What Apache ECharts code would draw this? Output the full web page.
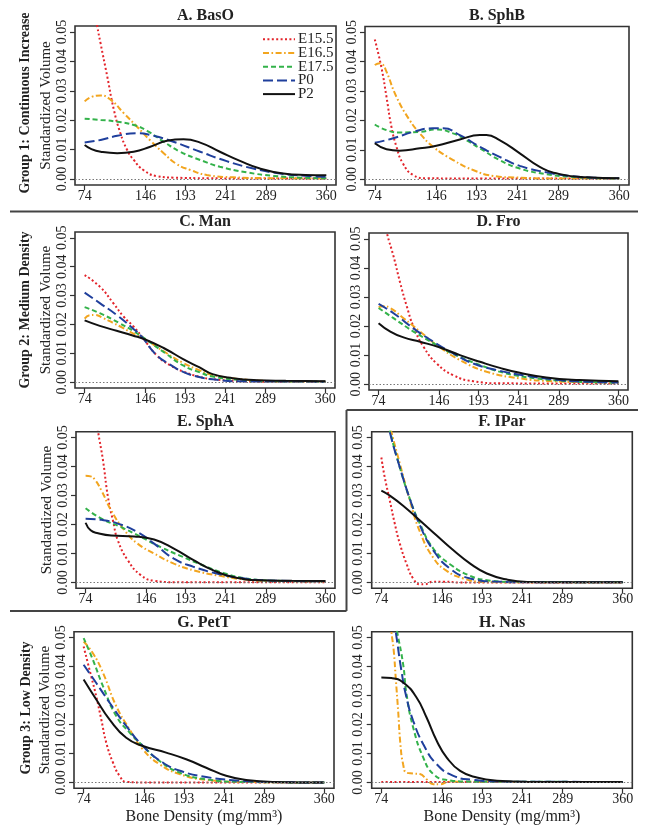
<!DOCTYPE html>
<html><head><meta charset="utf-8">
<script src="https://cdn.jsdelivr.net/npm/echarts@6/dist/echarts.min.js"></script>
<style>html,body{margin:0;padding:0;background:#fff}#c{width:649px;height:833px}</style>
</head><body><div id="c"></div>
<script>
// ---------- data ----------
const cohorts = ['E15.5','E16.5','E17.5','P0','P2'];
const panelTitles = ['A. BasO','B. SphB','C. Man','D. Fro','E. SphA','F. IPar','G. PetT','H. Nas'];
const groupLabels = ['Group 1: Continuous Increase','Group 2: Medium Density','Group 3: Low Density'];
const xTicks = [74,146,193,241,289,360];
const yTicks = [0,0.01,0.02,0.03,0.04,0.05];
const xTitle = 'Bone Density (mg/mm³)';
const yTitle = 'Standardized Volume';

// A. BasO
const A_E155 = [[74,0.085],[80,0.072],[84,0.062],[88.9,0.052],[92.9,0.046],[100.7,0.0349],[108.6,0.0235],[116.4,0.0155],[124.3,0.0099],[132.1,0.0065],[143.9,0.003],[159.6,0.001],[179.3,0.0005],[220,0.0003],[280,0.0002],[360,0.0002]];
const A_E165 = [[74,0.0264],[83,0.028],[92.9,0.0284],[104.6,0.027],[120.3,0.0224],[136,0.0178],[151.7,0.0131],[167.5,0.0088],[183,0.0051],[199,0.0031],[218.5,0.0014],[250,0.0006],[300,0.0003],[360,0.0002]];
const A_E175 = [[74,0.0205],[92.9,0.0201],[112.5,0.0195],[132,0.0184],[147.8,0.0164],[167.5,0.0127],[187,0.0093],[210.7,0.0065],[234,0.0042],[265.7,0.0023],[297,0.0011],[330,0.0005],[360,0.0003]];
const A_P0   = [[74,0.0124],[92.9,0.0133],[112.5,0.0147],[136,0.0156],[151.7,0.015],[179,0.0127],[210.7,0.0093],[242,0.0061],[273.5,0.0036],[305,0.0019],[335,0.0011],[360,0.0008]];
const A_P2   = [[74,0.0116],[82,0.0102],[92.9,0.0093],[112.5,0.0088],[132,0.0093],[151.7,0.011],[171.4,0.013],[191,0.0135],[210.7,0.0124],[234,0.0093],[257.8,0.0062],[281.4,0.0036],[309,0.0019],[335,0.0014],[360,0.0013]];
// B. SphB
const B_E155 = [[74,0.0476],[81.8,0.038],[87.7,0.028],[93.5,0.0178],[99.4,0.011],[107,0.0053],[118.9,0.0014],[134.5,0.0003],[200,0.0002],[360,0.0002]];
const B_E165 = [[74,0.0389],[80,0.0395],[82.5,0.0393],[87.7,0.0366],[99.4,0.028],[115,0.02],[126.7,0.0156],[142.3,0.011],[165.7,0.0065],[189,0.0031],[212.5,0.0011],[243.7,0.0005],[290,0.0002],[360,0.0002]];
const B_E175 = [[74,0.0186],[87.7,0.0167],[103,0.0159],[126.7,0.0161],[146,0.0169],[165.7,0.0156],[181,0.0133],[197,0.0105],[220,0.0065],[243.7,0.0036],[275,0.0017],[302,0.0008],[330,0.0004],[360,0.0002]];
const B_P0   = [[74,0.0124],[95.5,0.0139],[119,0.0161],[142,0.0173],[154,0.0173],[173.5,0.015],[197,0.011],[220,0.0076],[243.7,0.0045],[275,0.0023],[302,0.0011],[330,0.0005],[360,0.0003]];
const B_P2   = [[74,0.0122],[87.7,0.0102],[103,0.0097],[126.7,0.0105],[146,0.0114],[173.5,0.0135],[197,0.015],[204.6,0.015],[220,0.0133],[243.7,0.0088],[267,0.0042],[290.5,0.0017],[321.8,0.0006],[360,0.0003]];
// C. Man
const C_E155 = [[74,0.0371],[92,0.0331],[108,0.0274],[120,0.0228],[132,0.0193],[142,0.0158],[160,0.0092],[176,0.0058],[191,0.0037],[210,0.0019],[226,0.0011],[250,0.0005],[290,0.0002],[360,0.0002]];
const C_E165 = [[74,0.022],[80,0.0232],[86,0.0233],[96,0.0222],[108,0.0205],[120,0.0187],[132,0.0168],[146,0.0148],[170,0.0103],[191,0.0067],[210,0.0042],[226,0.0025],[258,0.0011],[297,0.0004],[360,0.0002]];
const C_E175 = [[74,0.026],[92,0.0239],[115,0.0205],[132,0.0177],[146,0.015],[170,0.01],[191,0.0058],[210,0.0035],[226,0.002],[258,0.0008],[300,0.0003],[360,0.0002]];
const C_P0   = [[74,0.031],[92,0.0274],[112,0.0233],[131,0.0187],[142,0.0157],[158,0.0098],[175,0.0062],[191,0.0036],[210,0.0018],[226,0.001],[260,0.0003],[360,0.0002]];
const C_P2   = [[74,0.0214],[92,0.0195],[112,0.0178],[131,0.0162],[146,0.0148],[170,0.0115],[191,0.008],[210,0.0052],[226,0.0028],[250,0.0014],[280,0.0007],[313,0.0005],[360,0.0003]];
// D. Fro
const D_E155 = [[74,0.068],[80,0.058],[83.9,0.052],[91.8,0.044],[99.8,0.0348],[107.7,0.0267],[115.6,0.0198],[127.5,0.0129],[143.3,0.0071],[163,0.0031],[187,0.001],[220,0.0003],[360,0.0002]];
const D_E165 = [[74,0.0265],[80,0.0268],[88,0.0262],[103.7,0.0227],[123.5,0.0181],[143.3,0.0135],[171,0.0083],[202.8,0.0043],[242.4,0.002],[282,0.001],[320,0.0007],[360,0.0006]];
const D_E175 = [[74,0.0262],[91.8,0.0227],[115.6,0.0181],[139.4,0.0141],[163,0.0104],[194.8,0.0066],[226.5,0.0037],[262,0.002],[301.8,0.001],[330,0.0007],[360,0.0005]];
const D_P0   = [[74,0.0276],[91.8,0.0244],[115.6,0.0192],[139.4,0.0146],[163,0.0106],[187,0.0071],[218.6,0.0046],[250,0.0029],[290,0.0014],[325,0.0008],[360,0.0006]];
const D_P2   = [[74,0.021],[88,0.0181],[103.7,0.0161],[123.5,0.0146],[147.3,0.0126],[171,0.01],[194.8,0.0077],[218.6,0.0056],[242.4,0.0039],[274,0.0023],[313.6,0.0014],[360,0.001]];
// E. SphA
const E_E155 = [[74,0.08],[82,0.065],[88.9,0.052],[94.8,0.042],[100.7,0.0294],[106.6,0.0214],[112.5,0.0145],[124.3,0.0077],[140,0.0025],[155.7,0.0006],[180,0.0001],[360,0.0001]];
const E_E165 = [[74,0.0368],[80,0.0366],[85,0.0355],[92.9,0.0317],[104.6,0.0248],[120.3,0.018],[136,0.0134],[155.7,0.01],[179.3,0.0065],[202.8,0.0042],[234.3,0.0023],[265.7,0.001],[300,0.0005],[360,0.0004]];
const E_E175 = [[74,0.0256],[92.9,0.022],[116.4,0.0191],[140,0.0157],[163.6,0.0122],[187,0.0092],[210.7,0.0063],[238,0.0033],[265.7,0.0014],[300,0.0006],[360,0.0004]];
const E_P0   = [[74,0.022],[92.9,0.0216],[112.5,0.0203],[136,0.0174],[155.7,0.0134],[179.3,0.0082],[202.8,0.0054],[230.3,0.0031],[257.8,0.0016],[290,0.0007],[360,0.0004]];
const E_P2   = [[74,0.0206],[80,0.018],[88.9,0.017],[104.6,0.0162],[132,0.0159],[155.7,0.0148],[179.3,0.0117],[202.8,0.0077],[226.4,0.0042],[250,0.0019],[281.4,0.0008],[320,0.0006],[360,0.0005]];
// F. IPar
const F_E155 = [[74,0.0431],[78,0.0363],[84,0.0283],[89.9,0.0203],[95.9,0.0134],[103.8,0.0065],[111.7,0.0014],[119.7,-0.0006],[125.6,-0.0006],[135.6,0.0003],[147.5,0.0003],[167,0],[360,0]];
const F_E165 = [[74,0.07],[80,0.06],[85.9,0.052],[95.9,0.041],[107.8,0.0283],[119.7,0.0175],[135.6,0.0085],[151.5,0.004],[171.3,0.0014],[191,0.0003],[230,0.0001],[360,0.0001]];
const F_E175 = [[74,0.067],[80,0.059],[84.5,0.052],[95.9,0.0397],[107.8,0.0288],[119.7,0.0203],[135.6,0.0117],[155.4,0.0063],[179.3,0.0023],[199,0.0008],[230,0.0002],[360,0.0001]];
const F_P0   = [[74,0.066],[80,0.058],[83.9,0.052],[95.9,0.0397],[107.8,0.0288],[119.7,0.0197],[135.6,0.0111],[155.4,0.0048],[179.3,0.0014],[210,0.0003],[250,0.0001],[360,0.0001]];
const F_P2   = [[74,0.0317],[83.9,0.03],[99.8,0.0265],[119.7,0.0214],[139.6,0.0162],[159.4,0.0111],[179.3,0.0065],[199,0.0031],[223,0.001],[246.8,0.0002],[280,0.0001],[360,0.0001]];
// G. PetT
const G_E155 = [[74,0.0469],[83,0.0366],[89,0.0297],[95,0.0217],[100.9,0.0137],[108.8,0.0069],[116.7,0.0023],[124.6,0.0002],[150,0],[360,0]];
const G_E165 = [[74,0.0486],[85,0.0446],[97,0.0378],[112.8,0.0263],[128.6,0.0183],[144.4,0.0114],[164.2,0.0063],[188,0.0029],[219.6,0.0009],[260,0.0002],[360,0]];
const G_E175 = [[74,0.0498],[85,0.0423],[97,0.0332],[112.8,0.0229],[128.6,0.0172],[144.4,0.0126],[164.2,0.0074],[188,0.0034],[219.6,0.0011],[260,0.0002],[360,0]];
const G_P0   = [[74,0.0406],[89,0.0343],[104.9,0.0275],[124.6,0.0195],[144.4,0.0126],[168,0.0069],[192,0.0037],[219.6,0.0019],[251,0.0008],[290,0.0002],[360,0]];
const G_P2   = [[74,0.0355],[89,0.0286],[104.9,0.0217],[124.6,0.0154],[144.4,0.0126],[172,0.0103],[195.8,0.008],[219.6,0.0051],[243.3,0.0023],[267,0.0009],[300,0.0002],[360,0]];
// H. Nas
const H_E155 = [[74,0.0002],[120,0.0002],[200,0.0002],[360,0.0002]];
const H_E165 = [[74,0.085],[80,0.068],[85.9,0.052],[88.7,0.0454],[91,0.0362],[93.9,0.0247],[96.6,0.0132],[99.8,0.0063],[103.8,0.0034],[111.7,0.0031],[119.7,0.0029],[127.6,0.0011],[135.6,-0.0006],[143.5,-0.0006],[155,0.0003],[200,0.0002],[360,0.0002]];
const H_E175 = [[74,0.085],[84,0.066],[92.7,0.052],[99.8,0.0408],[103.8,0.0305],[111.7,0.019],[123.7,0.0086],[135.6,0.0029],[151.5,0.0009],[180,0.0003],[360,0.0002]];
const H_P0   = [[74,0.09],[82,0.068],[91,0.052],[97.8,0.0385],[103.8,0.0293],[111.7,0.0213],[123.7,0.0132],[139.6,0.0063],[159.4,0.0023],[183,0.0009],[220,0.0003],[360,0.0002]];
const H_P2   = [[74,0.0362],[85.9,0.036],[99.8,0.0345],[115.7,0.0293],[127.6,0.0224],[139.6,0.0144],[151.5,0.0086],[167.4,0.004],[187.2,0.0017],[211,0.0006],[250,0.0002],[360,0.0002]];

const panelData = [
  [A_E155,A_E165,A_E175,A_P0,A_P2],
  [B_E155,B_E165,B_E175,B_P0,B_P2],
  [C_E155,C_E165,C_E175,C_P0,C_P2],
  [D_E155,D_E165,D_E175,D_P0,D_P2],
  [E_E155,E_E165,E_E175,E_P0,E_P2],
  [F_E155,F_E165,F_E175,F_P0,F_P2],
  [G_E155,G_E165,G_E175,G_P0,G_P2],
  [H_E155,H_E165,H_E175,H_P0,H_P2]
];

// ---------- styling / layout ----------
const FONT = '"Liberation Serif","Times New Roman",serif';
const colors = ['#e3242b','#f2a51f','#33b24a','#1f3f9c','#111111'];
const dashes = [[2,2.4],[6,2.5,1.6,2.5],[5,3],[10,4],'solid'];
const boxes = [
  {l:75,  t:26,    w:261,   h:159},
  {l:365, t:26.5,  w:264,   h:158.5},
  {l:75,  t:232,   w:260,   h:156},
  {l:369, t:233,   w:259,   h:157},
  {l:76,  t:431.7, w:259,   h:156.6},
  {l:371.7,t:431.7,w:260.6, h:156.6},
  {l:74,  t:631.7, w:260,   h:156.6},
  {l:371.7,t:631.7,w:260.6, h:156.6}
];
const titleY = [15.5,15.5,222,222,421.7,421.7,622.7,622.7];
const XMIN = 74 - 0.04*(360-74), XMAX = 360 + 0.04*(360-74);
const YMIN = -0.002, YMAX = 0.052;

const grid = [], xAxis = [], yAxis = [], series = [];
const graphic = [];
boxes.forEach((b,i) => {
  grid.push({left:b.l, top:b.t, width:b.w, height:b.h, show:true, borderColor:'#333', borderWidth:1.6, backgroundColor:'transparent'});
  xAxis.push({
    type:'value', gridIndex:i, min:XMIN, max:XMAX,
    axisLine:{show:false, onZero:false}, splitLine:{show:false},
    axisTick:{show:true, customValues:xTicks, length:5, lineStyle:{color:'#333', width:1.2}},
    axisLabel:{customValues:xTicks, fontSize:14, fontFamily:FONT, color:'#222', margin:4},
    name: i>=6 ? xTitle : '', nameLocation:'middle', nameGap:20,
    nameTextStyle:{fontSize:16, fontFamily:FONT, color:'#222'}
  });
  yAxis.push({
    type:'value', gridIndex:i, min:YMIN, max:YMAX,
    axisLine:{show:false, onZero:false}, splitLine:{show:false},
    axisTick:{show:true, customValues:yTicks, length:5, lineStyle:{color:'#333', width:1.2}},
    axisLabel:{customValues:yTicks, rotate:90, formatter:v=>v.toFixed(2), fontSize:14, fontFamily:FONT, color:'#222', margin:6},
    name: i%2===0 ? yTitle : '', nameLocation:'middle', nameGap:21,
    nameTextStyle:{fontSize:15, fontFamily:FONT, color:'#222'}
  });
  panelData[i].forEach((d,j) => {
    const s = {
      type:'line', name:cohorts[j], xAxisIndex:i, yAxisIndex:i, data:d,
      showSymbol:false, symbol:'none', smooth:0.5, clip:true,
      lineStyle:{color:colors[j], width:2, type:dashes[j], cap:'butt'},
      itemStyle:{color:colors[j]}, silent:true
    };
    if (j===0) s.markLine = {silent:true, symbol:'none', label:{show:false},
      lineStyle:{color:'#777', type:[1.5,2], width:1}, data:[{yAxis:0}]};
    series.push(s);
  });
  graphic.push({type:'text', x:b.l + b.w/2, y:titleY[i], style:{text:panelTitles[i], fontSize:16, fontWeight:'bold', fontFamily:FONT, fill:'#222', align:'center', verticalAlign:'middle'}});
});

const sepStyle = {stroke:'#444', lineWidth:2};
graphic.push(
  {type:'line', shape:{x1:10,y1:211.5,x2:638,y2:211.5}, style:sepStyle},
  {type:'line', shape:{x1:346.5,y1:410,x2:638,y2:410}, style:sepStyle},
  {type:'line', shape:{x1:346.5,y1:410,x2:346.5,y2:611}, style:sepStyle},
  {type:'line', shape:{x1:10,y1:611,x2:346.5,y2:611}, style:sepStyle}
);
const groupPos = [[25,103],[25,310],[26,708]];
groupLabels.forEach((g,k) => {
  graphic.push({type:'text', x:groupPos[k][0], y:groupPos[k][1], rotation:Math.PI/2,
    style:{text:g, fontSize:14, fontWeight:'bold', fontFamily:FONT, fill:'#222', align:'center', verticalAlign:'middle'}});
});
// legend (panel A, top-right inside the box)
cohorts.forEach((c,k) => {
  const y = 39.3 + 13.7*k;
  graphic.push({type:'line', shape:{x1:263,y1:y,x2:295,y2:y},
    style:{stroke:colors[k], lineWidth:2, lineDash: Array.isArray(dashes[k]) ? dashes[k] : null, lineCap:'butt'}});
  graphic.push({type:'text', x:298, y:y, style:{text:c, fontSize:15, fontFamily:FONT, fill:'#222', align:'left', verticalAlign:'middle'}});
});

const chart = echarts.init(document.getElementById('c'), null, {renderer:'canvas'});
chart.setOption({
  animation:false,
  backgroundColor:'#fff',
  grid, xAxis, yAxis, series, graphic
});
</script></body></html>
